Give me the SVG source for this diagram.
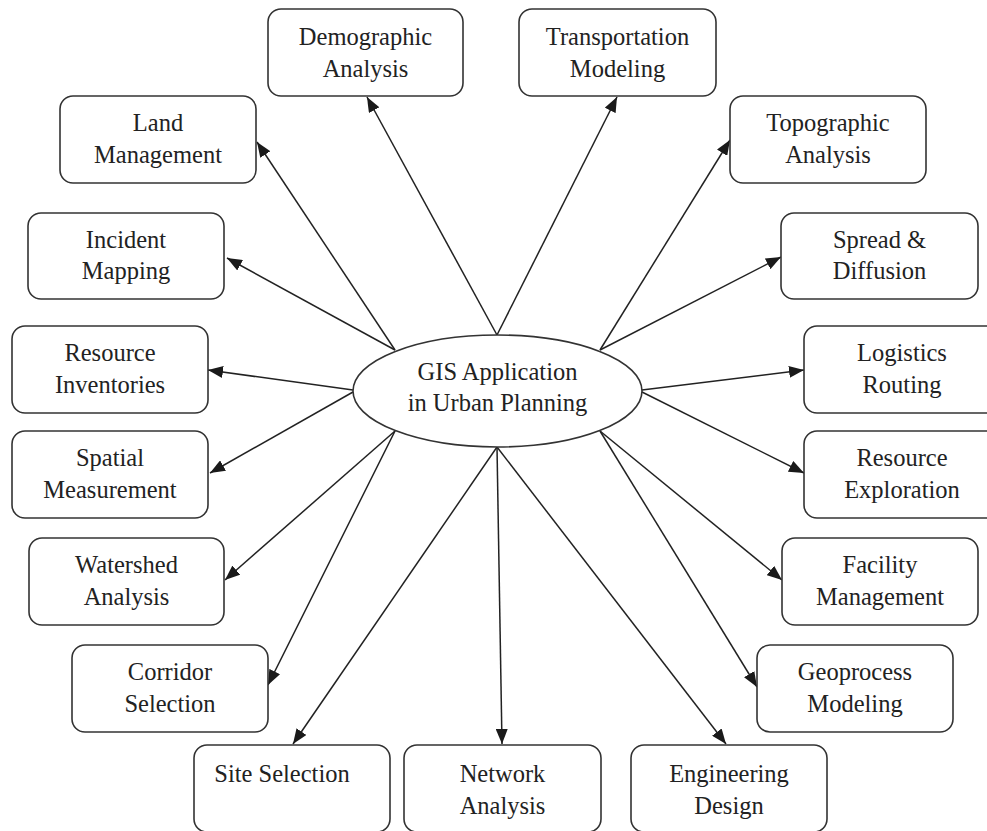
<svg xmlns="http://www.w3.org/2000/svg" width="987" height="831" viewBox="0 0 987 831">
  <style>
    .box { fill: #ffffff; stroke: #333333; stroke-width: 1.6; }
    .hub { fill: #ffffff; stroke: #333333; stroke-width: 1.6; }
    .lbl { font-family: "Liberation Serif", "Times New Roman", serif; font-size: 24.5px; fill: #222222; text-anchor: middle; }
    .edge { stroke: #222222; stroke-width: 1.5; fill: none; marker-end: url(#arrow); }
  </style>
  <defs>
    <marker id="arrow" markerUnits="userSpaceOnUse" markerWidth="16" markerHeight="12" viewBox="0 0 16 12" refX="15" refY="6" orient="auto">
      <path d="M0,0 L15,6 L0,12 Z" fill="#1a1a1a"/>
    </marker>
  </defs>

  <rect width="987" height="831" fill="#ffffff"/>

  <!-- spokes from the central ellipse out to each application -->
  <g id="connectors">
    <line class="edge" x1="497" y1="335" x2="367" y2="97"/>
    <line class="edge" x1="497" y1="335" x2="617" y2="97"/>
    <line class="edge" x1="395" y1="350" x2="257" y2="142"/>
    <line class="edge" x1="600" y1="350" x2="730" y2="140"/>
    <line class="edge" x1="395" y1="350" x2="227" y2="258"/>
    <line class="edge" x1="600" y1="350" x2="781" y2="257"/>
    <line class="edge" x1="353" y1="390" x2="208" y2="370"/>
    <line class="edge" x1="642" y1="390" x2="804" y2="370"/>
    <line class="edge" x1="353" y1="392" x2="210" y2="473"/>
    <line class="edge" x1="642" y1="392" x2="804" y2="473"/>
    <line class="edge" x1="395" y1="431" x2="225" y2="580"/>
    <line class="edge" x1="600" y1="431" x2="782" y2="580"/>
    <line class="edge" x1="395" y1="431" x2="268" y2="685"/>
    <line class="edge" x1="600" y1="431" x2="757" y2="687"/>
    <line class="edge" x1="497" y1="447" x2="293" y2="744"/>
    <line class="edge" x1="497" y1="447" x2="502" y2="744"/>
    <line class="edge" x1="497" y1="447" x2="726" y2="744"/>
  </g>

  <g id="hub">
    <ellipse class="hub" cx="497.5" cy="391" rx="144.5" ry="56"/>
    <text class="lbl" x="497.5" y="380">GIS Application</text>
    <text class="lbl" x="497.5" y="411">in Urban Planning</text>
  </g>

  <g id="demographic-analysis">
    <rect class="box" x="268" y="9" width="195" height="87" rx="13"/>
    <text class="lbl" x="365.5" y="45">Demographic</text>
    <text class="lbl" x="365.5" y="77">Analysis</text>
  </g>
  <g id="transportation-modeling">
    <rect class="box" x="519" y="9" width="197" height="87" rx="13"/>
    <text class="lbl" x="617.5" y="45">Transportation</text>
    <text class="lbl" x="617.5" y="77">Modeling</text>
  </g>
  <g id="land-management">
    <rect class="box" x="60" y="96" width="196" height="87" rx="13"/>
    <text class="lbl" x="158" y="131">Land</text>
    <text class="lbl" x="158" y="163">Management</text>
  </g>
  <g id="topographic-analysis">
    <rect class="box" x="730" y="96" width="196" height="87" rx="13"/>
    <text class="lbl" x="828" y="131">Topographic</text>
    <text class="lbl" x="828" y="163">Analysis</text>
  </g>
  <g id="incident-mapping">
    <rect class="box" x="28" y="213" width="196" height="86" rx="13"/>
    <text class="lbl" x="126" y="248">Incident</text>
    <text class="lbl" x="126" y="279">Mapping</text>
  </g>
  <g id="spread-diffusion">
    <rect class="box" x="781" y="213" width="197" height="86" rx="13"/>
    <text class="lbl" x="879.5" y="248">Spread &amp;</text>
    <text class="lbl" x="879.5" y="279">Diffusion</text>
  </g>
  <g id="resource-inventories">
    <rect class="box" x="12" y="326" width="196" height="87" rx="13"/>
    <text class="lbl" x="110" y="361">Resource</text>
    <text class="lbl" x="110" y="393">Inventories</text>
  </g>
  <g id="logistics-routing">
    <rect class="box" x="804" y="326" width="196" height="87" rx="13"/>
    <text class="lbl" x="902" y="361">Logistics</text>
    <text class="lbl" x="902" y="393">Routing</text>
  </g>
  <g id="spatial-measurement">
    <rect class="box" x="12" y="431" width="196" height="87" rx="13"/>
    <text class="lbl" x="110" y="466">Spatial</text>
    <text class="lbl" x="110" y="498">Measurement</text>
  </g>
  <g id="resource-exploration">
    <rect class="box" x="804" y="431" width="196" height="87" rx="13"/>
    <text class="lbl" x="902" y="466">Resource</text>
    <text class="lbl" x="902" y="498">Exploration</text>
  </g>
  <g id="watershed-analysis">
    <rect class="box" x="29" y="538" width="195" height="87" rx="13"/>
    <text class="lbl" x="126.5" y="573">Watershed</text>
    <text class="lbl" x="126.5" y="605">Analysis</text>
  </g>
  <g id="facility-management">
    <rect class="box" x="782" y="538" width="196" height="87" rx="13"/>
    <text class="lbl" x="880" y="573">Facility</text>
    <text class="lbl" x="880" y="605">Management</text>
  </g>
  <g id="corridor-selection">
    <rect class="box" x="72" y="645" width="196" height="87" rx="13"/>
    <text class="lbl" x="170" y="680">Corridor</text>
    <text class="lbl" x="170" y="712">Selection</text>
  </g>
  <g id="geoprocess-modeling">
    <rect class="box" x="757" y="645" width="196" height="87" rx="13"/>
    <text class="lbl" x="855" y="680">Geoprocess</text>
    <text class="lbl" x="855" y="712">Modeling</text>
  </g>
  <g id="site-selection">
    <rect class="box" x="194" y="745" width="196" height="87" rx="13"/>
    <text class="lbl" x="282" y="782">Site Selection</text>
  </g>
  <g id="network-analysis">
    <rect class="box" x="404" y="745" width="197" height="87" rx="13"/>
    <text class="lbl" x="502.5" y="782">Network</text>
    <text class="lbl" x="502.5" y="814">Analysis</text>
  </g>
  <g id="engineering-design">
    <rect class="box" x="631" y="745" width="196" height="87" rx="13"/>
    <text class="lbl" x="729" y="782">Engineering</text>
    <text class="lbl" x="729" y="814">Design</text>
  </g>
</svg>
